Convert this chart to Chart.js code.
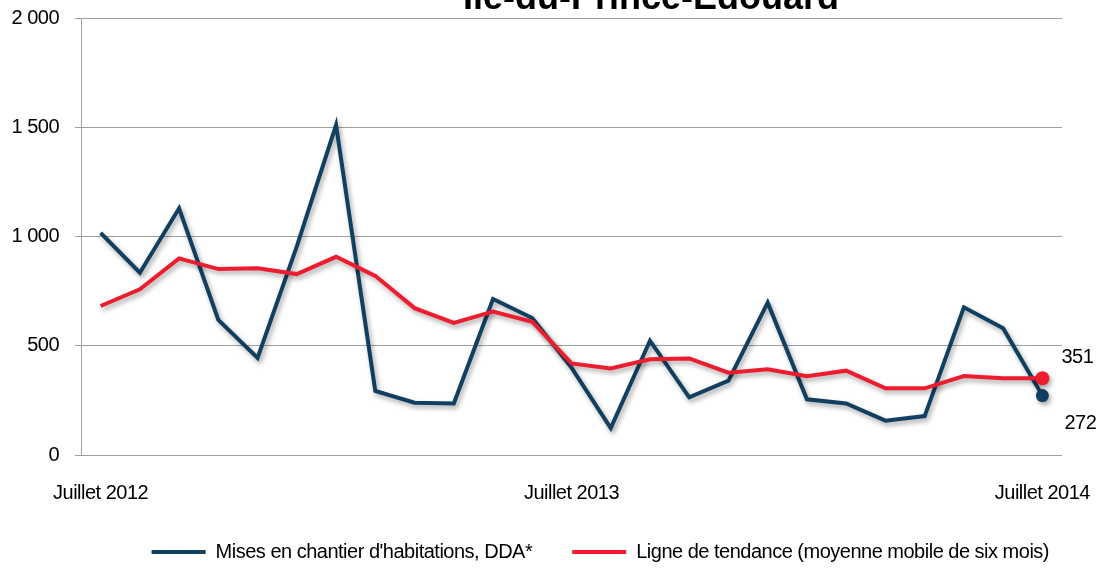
<!DOCTYPE html>
<html lang="fr">
<head>
<meta charset="utf-8">
<title>Île-du-Prince-Édouard</title>
<script src="https://cdn.jsdelivr.net/npm/chart.js@4.4.1/dist/chart.umd.min.js"></script>
<style>
  html, body { margin: 0; padding: 0; background: #fff; overflow: hidden; }
  #wrap { position: relative; width: 1102px; height: 572px; }
</style>
</head>
<body>
<div id="wrap"><canvas id="chart"></canvas></div>
<script>
const months = [
  "Juillet 2012", "Août 2012", "Septembre 2012", "Octobre 2012", "Novembre 2012", "Décembre 2012",
  "Janvier 2013", "Février 2013", "Mars 2013", "Avril 2013", "Mai 2013", "Juin 2013",
  "Juillet 2013", "Août 2013", "Septembre 2013", "Octobre 2013", "Novembre 2013", "Décembre 2013",
  "Janvier 2014", "Février 2014", "Mars 2014", "Avril 2014", "Mai 2014", "Juin 2014",
  "Juillet 2014"
];
const shownMonths = ["Juillet 2012", "Juillet 2013", "Juillet 2014"];
const starts = [1017, 834, 1129, 618, 444, 955, 1510, 293, 239, 236, 714, 627,
                400, 123, 523, 264, 340, 697, 255, 236, 157, 178, 676, 580, 272];
const trend = [682, 758, 900, 851, 855, 828, 907, 820, 672, 605, 656, 610,
               419, 396, 438, 442, 377, 392, 361, 386, 305, 305, 361, 351, 351];
const yTicks = [0, 500, 1000, 1500, 2000];
const seriesNames = ["Mises en chantier d'habitations, DDA*", "Ligne de tendance (moyenne mobile de six mois)"];
const title = "Île-du-Prince-Édouard";

const BLUE = "#113f5f";
const RED = "#ed1c2e";
const GRID = "#a0a0a0";
const FONT = "'Liberation Sans', Arial, sans-serif";
const SPACING = "-0.5px";
const last = months.length - 1;

const fmt = v => String(v).replace(/\B(?=(\d{3})+(?!\d))/g, " ");

/* tighter letters, like the original export */
const tight = {
  id: "tight",
  beforeLayout(chart) { chart.ctx.letterSpacing = SPACING; },
  beforeDraw(chart) { chart.ctx.letterSpacing = SPACING; },
};

/* shadow under the lines */
const shadow = {
  id: "shadow",
  beforeDatasetsDraw(chart) {
    const c = chart.ctx;
    c.save();
    c.shadowColor = "rgba(0,0,0,0.35)";
    c.shadowBlur = 5;
    c.shadowOffsetX = 2;
    c.shadowOffsetY = 3;
  },
  afterDatasetsDraw(chart) { chart.ctx.restore(); }
};

/* title (cut at the top like the original) + end values */
const extras = {
  id: "extras",
  afterDraw(chart) {
    const c = chart.ctx;
    c.save();
    c.fillStyle = "#000";
    c.letterSpacing = "0px";
    c.font = "bold 36px " + FONT;
    c.textAlign = "center";
    c.textBaseline = "alphabetic";
    c.fillText(title, 651, 9);

    c.letterSpacing = SPACING;
    c.font = "20px " + FONT;
    c.textAlign = "left";
    c.textBaseline = "middle";
    const pRed = chart.getDatasetMeta(1).data[last];
    const pBlue = chart.getDatasetMeta(0).data[last];
    c.fillText(fmt(trend[last]), pRed.x + 19, pRed.y - 21);
    c.fillText(fmt(starts[last]), pBlue.x + 22, pBlue.y + 28);
    c.restore();
  }
};

new Chart(document.getElementById("chart"), {
  type: "line",
  data: {
    labels: months,
    datasets: [{
      label: seriesNames[0],
      data: starts,
      borderColor: BLUE,
      backgroundColor: BLUE,
      borderWidth: 4,
      tension: 0,
      order: 1,
      pointRadius: ctx => ctx.dataIndex === last ? 6.5 : 0,
      pointBorderWidth: ctx => ctx.dataIndex === last ? 0 : 4,
      pointHoverRadius: 0,
    }, {
      label: seriesNames[1],
      data: trend,
      borderColor: RED,
      backgroundColor: RED,
      borderWidth: 4,
      tension: 0,
      order: 0,
      pointRadius: ctx => ctx.dataIndex === last ? 7 : 0,
      pointBorderWidth: ctx => ctx.dataIndex === last ? 0 : 4,
      pointHoverRadius: 0,
    }],
  },
  options: {
    responsive: true, maintainAspectRatio: false,
    animation: false,
    layout: { padding: { top: 18, right: 13, left: 0, bottom: 0 } },
    plugins: {
      tooltip: { enabled: false },
      legend: {
        position: "bottom",
        align: "end",
        labels: {
          usePointStyle: true,
          pointStyle: "line",
          pointStyleWidth: 54,
          padding: 40,
          color: "#000",
          font: { family: FONT, size: 20, lineHeight: 0.9 },
          sort: (a, b) => a.datasetIndex - b.datasetIndex,
        },
      },
    },
    scales: {
      x: {
        offset: true,
        grid: { display: false, drawTicks: false },
        border: { display: false },
        ticks: {
          autoSkip: false, maxRotation: 0, padding: 26,
          color: "#000",
          font: { family: FONT, size: 20 },
          callback: function (v) {
            const m = this.getLabelForValue(v);
            return shownMonths.includes(m) ? m : "";
          },
        },
        afterFit: s => { s.height = 47; s.paddingLeft = 0; s.paddingRight = 0; },
      },
      y: {
        min: 0, max: 2000,
        grid: { color: GRID, lineWidth: 1, tickLength: 6 },
        border: { display: true, color: GRID, width: 1 },
        afterBuildTicks: s => { s.ticks = yTicks.map(v => ({ value: v })); },
        ticks: {
          padding: 16,
          color: "#000",
          font: { family: FONT, size: 20 },
          callback: v => fmt(v),
        },
        afterFit: s => { s.width = 81; s.paddingTop = 0; s.paddingBottom = 0; },
      },
      yRight: {
        position: "right",
        display: true,
        grid: { display: false, drawTicks: false },
        border: { display: false },
        ticks: { display: false },
        afterFit: s => { s.width = 27; s.paddingTop = 0; s.paddingBottom = 0; },
      },
    },
  },
  plugins: [tight, shadow, extras],
});
</script>
</body>
</html>
